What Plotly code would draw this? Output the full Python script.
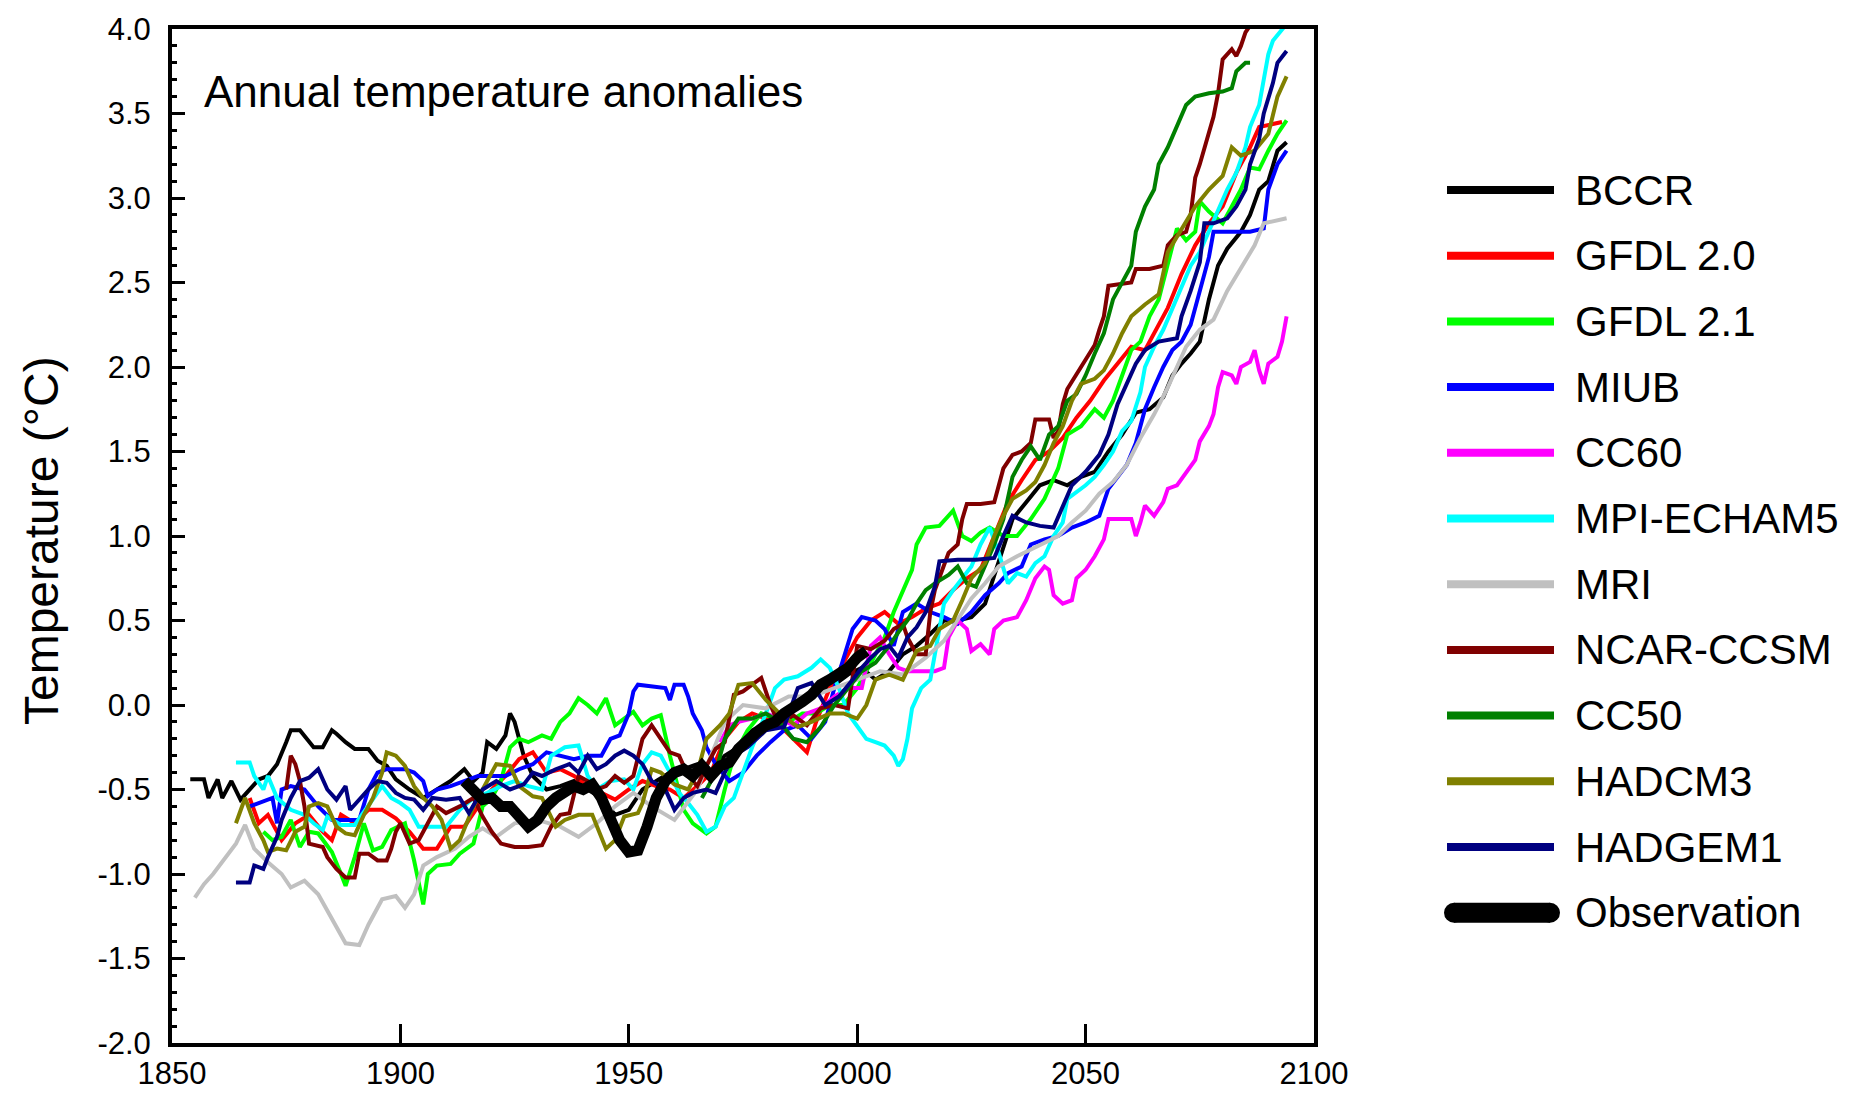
import plotly.graph_objects as go

# ------------------------------------------------------------------ data
# (year, temperature anomaly in degC)
BCCR = [(1854,-0.44),(1857,-0.44),(1858,-0.55),(1860,-0.44),(1861,-0.55),(1863,-0.45),(1865,-0.56),
        (1867,-0.5),(1869,-0.44),(1871,-0.42),(1873,-0.35),(1875,-0.22),(1876,-0.15),(1878,-0.15),
        (1880,-0.22),(1881,-0.25),(1883,-0.25),(1885,-0.15),(1886,-0.17),(1888,-0.22),(1890,-0.26),
        (1893,-0.26),(1895,-0.33),(1897,-0.36),(1899,-0.44),(1902,-0.5),(1905,-0.55),(1908,-0.5),
        (1911,-0.45),(1914,-0.38),(1916,-0.45),(1918,-0.4),(1919,-0.22),(1921,-0.26),(1923,-0.18),
        (1924,-0.05),(1925,-0.1),(1927,-0.3),(1929,-0.42),(1932,-0.5),(1935,-0.48),(1938,-0.45),
        (1941,-0.5),(1944,-0.55),(1947,-0.65),(1950,-0.62),(1953,-0.5),(1956,-0.45),(1959,-0.4),
        (1962,-0.38),(1965,-0.35),(1968,-0.4),(1971,-0.3),(1974,-0.25),(1977,-0.15),(1980,-0.12),
        (1983,-0.05),(1986,-0.02),(1989,0.02),(1992,0.08),(1995,0.12),(1998,0.18),(2001,0.22),
        (2004,0.15),(2007,0.2),(2010,0.3),(2013,0.35),(2016,0.42),(2019,0.5),(2022,0.5),(2025,0.52),
        (2028,0.6),(2031,0.85),(2034,1.1),(2037,1.2),(2040,1.3),(2043,1.33),(2046,1.3),(2049,1.35),
        (2052,1.38),(2055,1.5),(2058,1.6),(2061,1.73),(2064,1.75),(2067,1.82),(2069,1.95),(2071,2.02),
        (2073,2.08),(2075,2.15),(2077,2.4),(2079,2.6),(2081,2.7),(2084,2.8),(2086,2.9),(2088,3.05),
        (2090,3.1),(2092,3.28),(2094,3.33)]

GFDL20 = [(1867,-0.55),(1869,-0.7),(1871,-0.65),(1874,-0.8),(1877,-0.7),(1880,-0.65),(1883,-0.75),
          (1885,-0.8),(1887,-0.65),(1890,-0.7),(1893,-0.62),(1896,-0.62),(1899,-0.67),(1902,-0.75),
          (1905,-0.85),(1908,-0.85),(1911,-0.72),(1914,-0.72),(1917,-0.6),(1920,-0.5),(1923,-0.42),
          (1926,-0.32),(1929,-0.28),(1932,-0.4),(1935,-0.38),(1938,-0.42),(1941,-0.48),(1944,-0.52),
          (1947,-0.56),(1950,-0.5),(1953,-0.45),(1956,-0.48),(1959,-0.5),(1962,-0.55),(1965,-0.48),
          (1968,-0.4),(1971,-0.2),(1974,-0.1),(1977,-0.05),(1980,-0.08),(1983,-0.12),(1986,-0.2),
          (1989,-0.28),(1991,-0.1),(1994,0.1),(1997,0.25),(2000,0.4),(2003,0.5),(2006,0.55),(2009,0.48),
          (2012,0.52),(2015,0.57),(2018,0.6),(2021,0.68),(2024,0.75),(2027,0.8),(2030,1.0),(2033,1.2),
          (2036,1.33),(2039,1.45),(2042,1.5),(2045,1.58),(2048,1.7),(2051,1.8),(2054,1.92),(2057,2.02),
          (2060,2.12),(2063,2.1),(2066,2.25),(2068,2.35),(2071,2.55),(2074,2.72),(2077,2.85),(2080,2.95),
          (2083,3.15),(2086,3.3),(2088,3.42),(2090,3.43),(2093,3.45)]

GFDL21 = [(1870,-0.75),(1872,-0.8),(1874,-0.78),(1876,-0.68),(1878,-0.84),(1880,-0.75),(1882,-0.76),
          (1885,-0.87),(1887,-1.0),(1888,-1.07),(1890,-0.9),(1892,-0.7),(1894,-0.86),(1896,-0.84),
          (1898,-0.74),(1901,-0.7),(1903,-0.92),(1905,-1.18),(1906,-1.0),(1908,-0.95),(1911,-0.94),
          (1913,-0.88),(1916,-0.82),(1918,-0.6),(1920,-0.55),(1922,-0.45),(1924,-0.25),(1926,-0.2),
          (1928,-0.22),(1931,-0.18),(1933,-0.2),(1935,-0.1),(1937,-0.05),(1939,0.04),(1941,0.0),
          (1943,-0.05),(1945,0.04),(1947,-0.12),(1949,-0.08),(1951,-0.04),(1953,-0.12),(1955,-0.08),
          (1957,-0.06),(1959,-0.3),(1962,-0.62),(1964,-0.7),(1967,-0.76),(1969,-0.72),(1971,-0.5),
          (1973,-0.3),(1976,-0.15),(1979,-0.05),(1982,-0.08),(1985,-0.1),(1988,-0.05),(1991,-0.05),
          (1994,0.0),(1997,0.0),(2000,0.1),(2003,0.25),(2006,0.4),(2008,0.55),(2010,0.68),(2012,0.8),
          (2013,0.95),(2015,1.05),(2018,1.06),(2020,1.12),(2021,1.15),(2023,1.0),(2025,0.97),(2027,1.02),
          (2029,1.05),(2032,1.0),(2035,1.0),(2038,1.1),(2041,1.22),(2044,1.4),(2046,1.6),(2049,1.65),
          (2052,1.75),(2054,1.7),(2056,1.8),(2058,1.95),(2060,2.1),(2062,2.15),(2064,2.3),(2066,2.4),
          (2068,2.6),(2070,2.82),(2072,2.75),(2074,2.8),(2075,2.98),(2077,2.92),(2080,2.85),(2082,2.95),
          (2084,3.05),(2086,3.18),(2088,3.17),(2090,3.28),(2092,3.38),(2094,3.46)]

MIUB = [(1867,-0.6),(1869,-0.58),(1872,-0.55),(1873,-0.7),(1874,-0.5),(1876,-0.48),(1879,-0.5),
        (1882,-0.6),(1885,-0.68),(1888,-0.68),(1891,-0.68),(1893,-0.5),(1895,-0.4),(1897,-0.38),
        (1899,-0.38),(1901,-0.38),(1903,-0.4),(1905,-0.45),(1906,-0.54),(1908,-0.5),(1911,-0.48),
        (1914,-0.45),(1917,-0.42),(1920,-0.42),(1923,-0.42),(1926,-0.38),(1929,-0.35),(1932,-0.28),
        (1935,-0.3),(1938,-0.32),(1941,-0.3),(1944,-0.3),(1946,-0.2),(1948,-0.18),(1950,-0.05),
        (1951,0.08),(1952,0.12),(1955,0.11),(1958,0.1),(1959,0.03),(1960,0.12),(1962,0.12),(1963,0.05),
        (1964,-0.05),(1966,-0.15),(1967,-0.25),(1969,-0.35),(1972,-0.45),(1975,-0.4),(1978,-0.3),
        (1981,-0.22),(1984,-0.15),(1987,-0.12),(1990,-0.2),(1993,-0.1),(1995,0.1),(1997,0.28),
        (1999,0.45),(2001,0.52),(2004,0.5),(2006,0.45),(2008,0.35),(2010,0.55),(2013,0.6),(2016,0.55),
        (2019,0.52),(2022,0.48),(2025,0.55),(2028,0.65),(2031,0.72),(2033,0.78),(2036,0.82),(2038,0.95),
        (2041,0.98),(2044,1.0),(2047,1.05),(2050,1.08),(2053,1.12),(2055,1.28),(2057,1.35),(2059,1.42),
        (2061,1.55),(2063,1.75),(2065,1.88),(2067,2.0),(2069,2.1),(2071,2.15),(2073,2.25),(2075,2.45),
        (2077,2.65),(2078,2.8),(2082,2.8),(2086,2.8),(2089,2.82),(2090,3.05),(2092,3.2),(2094,3.28)]

CC60 = [(1970,-0.22),(1972,-0.12),(1974,-0.1),(1977,-0.08),(1980,-0.05),(1983,-0.08),(1986,-0.12),
        (1989,-0.05),(1992,-0.02),(1995,0.05),(1998,0.1),(2001,0.1),(2003,0.35),(2005,0.4),(2007,0.3),
        (2009,0.22),(2011,0.2),(2014,0.2),(2017,0.2),(2019,0.22),(2020,0.4),(2022,0.5),(2024,0.45),
        (2025,0.32),(2027,0.36),(2029,0.3),(2030,0.45),(2032,0.5),(2035,0.52),(2037,0.62),(2039,0.75),
        (2041,0.82),(2042,0.8),(2043,0.65),(2045,0.6),(2047,0.62),(2048,0.75),(2050,0.8),(2052,0.88),
        (2054,0.98),(2055,1.1),(2058,1.1),(2060,1.1),(2061,1.0),(2062,1.08),(2063,1.18),(2065,1.12),
        (2067,1.2),(2068,1.28),(2070,1.3),(2072,1.38),(2074,1.45),(2075,1.56),(2077,1.65),(2078,1.72),
        (2079,1.88),(2080,1.97),(2082,1.95),(2083,1.9),(2084,2.0),(2086,2.03),(2087,2.1),(2088,1.98),
        (2089,1.9),(2090,2.02),(2092,2.06),(2093,2.15),(2094,2.3)]

MPI_ECHAM5 = [(1864,-0.34),(1867,-0.34),(1868,-0.42),(1870,-0.5),(1871,-0.42),(1873,-0.55),(1876,-0.62),
              (1879,-0.65),(1881,-0.7),(1883,-0.74),(1884,-0.66),(1887,-0.71),(1890,-0.71),(1893,-0.6),
              (1896,-0.48),(1898,-0.55),(1900,-0.58),(1902,-0.62),(1904,-0.72),(1907,-0.72),(1910,-0.72),
              (1913,-0.62),(1916,-0.55),(1919,-0.52),(1922,-0.48),(1925,-0.45),(1928,-0.48),(1931,-0.5),
              (1933,-0.3),(1936,-0.25),(1939,-0.24),(1941,-0.42),(1943,-0.5),(1946,-0.45),(1949,-0.44),
              (1951,-0.5),(1953,-0.35),(1955,-0.28),(1957,-0.3),(1959,-0.4),(1961,-0.52),(1963,-0.58),
              (1965,-0.65),(1967,-0.75),(1969,-0.72),(1971,-0.6),(1973,-0.55),(1975,-0.4),(1977,-0.25),
              (1980,-0.05),(1982,0.1),(1984,0.15),(1987,0.17),(1990,0.22),(1992,0.27),(1994,0.22),
              (1996,0.1),(1998,-0.05),(2000,-0.13),(2002,-0.2),(2004,-0.22),(2006,-0.24),(2008,-0.3),
              (2009,-0.36),(2010,-0.32),(2011,-0.2),(2012,-0.02),(2014,0.1),(2016,0.15),(2018,0.45),
              (2019,0.6),(2021,0.68),(2023,0.75),(2025,0.82),(2027,0.95),(2029,1.05),(2031,0.9),(2033,0.72),
              (2035,0.78),(2037,0.76),(2039,0.84),(2041,0.88),(2043,1.0),(2045,1.08),(2046,1.22),(2048,1.26),
              (2050,1.3),(2052,1.35),(2054,1.42),(2056,1.5),(2058,1.62),(2060,1.68),(2062,1.85),(2063,2.0),
              (2065,2.12),(2067,2.22),(2069,2.35),(2071,2.48),(2073,2.6),(2075,2.68),(2077,2.8),(2079,2.92),
              (2081,3.05),(2083,3.15),(2085,3.3),(2086,3.42),(2088,3.55),(2089,3.7),(2090,3.85),(2091,3.93),
              (2093,4.0),(2094,4.03)]

MRI = [(1855,-1.14),(1857,-1.06),(1859,-1.0),(1861,-0.93),(1864,-0.82),(1866,-0.71),(1868,-0.85),
       (1871,-0.93),(1874,-1.0),(1876,-1.08),(1879,-1.04),(1882,-1.12),(1885,-1.27),(1888,-1.41),
       (1891,-1.42),(1893,-1.3),(1896,-1.15),(1899,-1.13),(1901,-1.2),(1903,-1.12),(1905,-0.95),
       (1908,-0.9),(1912,-0.85),(1915,-0.78),(1918,-0.73),(1921,-0.78),(1925,-0.7),(1930,-0.68),
       (1935,-0.72),(1939,-0.78),(1943,-0.7),(1947,-0.6),(1951,-0.52),(1955,-0.6),(1960,-0.68),
       (1965,-0.5),(1968,-0.3),(1971,-0.1),(1975,0.0),(1980,-0.02),(1985,0.05),(1990,0.05),(1995,0.1),
       (2000,0.15),(2005,0.2),(2010,0.18),(2015,0.28),(2019,0.38),(2022,0.5),(2025,0.63),(2028,0.72),
       (2031,0.82),(2035,0.88),(2040,0.95),(2044,1.0),(2047,1.08),(2050,1.15),(2053,1.25),(2056,1.32),
       (2059,1.42),(2062,1.58),(2065,1.72),(2068,1.88),(2070,2.0),(2072,2.12),(2075,2.22),(2078,2.28),
       (2081,2.45),(2084,2.58),(2087,2.72),(2089,2.85),(2094,2.88)]

NCAR_CCSM = [(1875,-0.5),(1876,-0.3),(1877,-0.35),(1878,-0.45),(1879,-0.6),(1880,-0.82),(1883,-0.84),
             (1884,-0.9),(1886,-0.97),(1888,-1.02),(1890,-1.02),(1891,-0.88),(1893,-0.88),(1895,-0.92),
             (1897,-0.92),(1898,-0.85),(1899,-0.75),(1900,-0.7),(1902,-0.82),(1904,-0.8),(1906,-0.7),
             (1908,-0.6),(1910,-0.64),(1913,-0.6),(1916,-0.55),(1918,-0.66),(1920,-0.75),(1922,-0.82),
             (1925,-0.84),(1928,-0.84),(1931,-0.83),(1933,-0.72),(1935,-0.65),(1937,-0.64),(1939,-0.42),
             (1941,-0.45),(1943,-0.5),(1945,-0.48),(1947,-0.42),(1949,-0.46),(1951,-0.42),(1953,-0.2),
             (1955,-0.12),(1957,-0.2),(1959,-0.28),(1961,-0.3),(1963,-0.42),(1965,-0.48),(1967,-0.36),
             (1969,-0.26),(1971,-0.22),(1973,0.06),(1975,0.08),(1977,0.12),(1979,0.16),(1981,0.0),
             (1983,-0.12),(1986,-0.06),(1989,-0.12),(1992,-0.02),(1995,0.0),(1998,-0.02),(2000,0.35),
             (2003,0.33),(2006,0.38),(2008,0.45),(2010,0.48),(2011,0.4),(2013,0.3),(2015,0.3),(2016,0.55),
             (2017,0.68),(2019,0.82),(2020,0.9),(2022,0.95),(2023,1.1),(2024,1.19),(2027,1.19),(2030,1.2),
             (2031,1.3),(2032,1.4),(2034,1.48),(2036,1.5),(2038,1.55),(2039,1.69),(2042,1.69),(2043,1.58),
             (2044,1.62),(2045,1.78),(2046,1.87),(2048,1.96),(2050,2.05),(2052,2.13),(2053,2.22),(2054,2.3),
             (2055,2.48),(2058,2.49),(2060,2.5),(2061,2.58),(2064,2.58),(2067,2.6),(2068,2.72),(2070,2.78),
             (2072,2.8),(2073,2.9),(2074,3.12),(2075,3.2),(2076,3.3),(2077,3.4),(2078,3.48),(2079,3.62),
             (2080,3.82),(2082,3.88),(2083,3.84),(2084,3.9),(2085,3.98),(2086,4.02)]

CC50 = [(1966,-0.55),(1969,-0.4),(1971,-0.2),(1974,-0.08),(1977,-0.08),(1980,-0.05),(1983,-0.1),
        (1986,-0.2),(1989,-0.22),(1992,-0.13),(1995,0.0),(1998,0.1),(2001,0.2),(2004,0.25),(2007,0.35),
        (2009,0.43),(2011,0.5),(2013,0.6),(2015,0.68),(2017,0.72),(2020,0.77),(2022,0.82),(2024,0.72),
        (2026,0.7),(2028,0.82),(2030,0.95),(2032,1.1),(2034,1.35),(2036,1.45),(2038,1.53),(2040,1.45),
        (2042,1.6),(2044,1.65),(2046,1.8),(2048,1.84),(2050,1.95),(2052,2.08),(2054,2.2),(2056,2.4),
        (2058,2.5),(2060,2.6),(2061,2.8),(2063,2.95),(2065,3.05),(2066,3.2),(2068,3.3),(2070,3.42),
        (2072,3.55),(2074,3.6),(2077,3.62),(2080,3.63),(2082,3.65),(2083,3.75),(2085,3.8),(2086,3.8)]

HADCM3 = [(1864,-0.7),(1866,-0.55),(1868,-0.7),(1870,-0.8),(1871,-0.87),(1873,-0.85),(1875,-0.86),
          (1877,-0.75),(1879,-0.72),(1880,-0.6),(1882,-0.58),(1884,-0.6),(1886,-0.72),(1888,-0.76),
          (1890,-0.77),(1892,-0.65),(1894,-0.55),(1896,-0.4),(1897,-0.28),(1899,-0.3),(1901,-0.36),
          (1903,-0.48),(1905,-0.55),(1907,-0.6),(1909,-0.68),(1911,-0.85),(1913,-0.8),(1916,-0.6),
          (1919,-0.45),(1921,-0.35),(1924,-0.36),(1926,-0.48),(1929,-0.54),(1931,-0.55),(1934,-0.72),
          (1936,-0.68),(1939,-0.65),(1942,-0.65),(1945,-0.85),(1947,-0.8),(1949,-0.66),(1952,-0.64),
          (1953,-0.58),(1955,-0.38),(1957,-0.4),(1960,-0.47),(1963,-0.5),(1965,-0.4),(1967,-0.2),
          (1970,-0.12),(1972,-0.05),(1974,0.12),(1977,0.13),(1980,0.03),(1983,-0.05),(1987,-0.13),
          (1990,-0.1),(1994,-0.05),(1997,-0.05),(2000,-0.08),(2002,0.0),(2004,0.15),(2007,0.18),
          (2010,0.15),(2013,0.32),(2016,0.35),(2018,0.45),(2021,0.5),(2023,0.62),(2025,0.75),(2028,0.84),
          (2030,1.0),(2032,1.12),(2034,1.22),(2037,1.27),(2039,1.32),(2041,1.42),(2043,1.55),(2045,1.65),
          (2047,1.8),(2049,1.9),(2052,1.93),(2054,1.98),(2056,2.08),(2058,2.2),(2060,2.3),(2063,2.37),
          (2066,2.43),(2068,2.68),(2071,2.82),(2074,2.95),(2077,3.05),(2080,3.13),(2082,3.3),(2084,3.25),
          (2087,3.28),(2090,3.38),(2092,3.6),(2094,3.72)]

HADGEM1 = [(1864,-1.05),(1867,-1.05),(1868,-0.95),(1870,-0.97),(1871,-0.9),(1873,-0.78),(1874,-0.68),
           (1876,-0.55),(1878,-0.45),(1880,-0.43),(1882,-0.38),(1884,-0.5),(1886,-0.56),(1888,-0.48),
           (1889,-0.62),(1891,-0.56),(1893,-0.5),(1895,-0.45),(1897,-0.46),(1899,-0.52),(1901,-0.55),
           (1903,-0.56),(1905,-0.62),(1907,-0.55),(1910,-0.56),(1913,-0.55),(1915,-0.64),(1918,-0.5),
           (1921,-0.45),(1924,-0.5),(1927,-0.47),(1929,-0.4),(1931,-0.42),(1934,-0.38),(1937,-0.35),
           (1939,-0.4),(1941,-0.3),(1943,-0.38),(1945,-0.35),(1947,-0.3),(1949,-0.27),(1951,-0.3),
           (1953,-0.35),(1955,-0.45),(1958,-0.5),(1960,-0.62),(1962,-0.55),(1964,-0.52),(1967,-0.5),
           (1969,-0.52),(1971,-0.4),(1973,-0.3),(1976,-0.25),(1980,-0.15),(1984,-0.13),(1987,0.1),
           (1990,0.13),(1993,0.0),(1996,0.05),(1999,0.15),(2001,0.22),(2003,0.28),(2005,0.33),(2007,0.35),
           (2009,0.28),(2011,0.4),(2013,0.46),(2015,0.55),(2017,0.7),(2018,0.85),(2022,0.86),(2026,0.86),
           (2030,0.87),(2032,1.0),(2034,1.12),(2037,1.08),(2040,1.06),(2043,1.05),(2045,1.18),(2047,1.3),
           (2050,1.38),(2053,1.48),(2055,1.6),(2057,1.78),(2059,1.9),(2061,2.02),(2063,2.1),(2066,2.15),
           (2070,2.17),(2071,2.3),(2073,2.45),(2075,2.62),(2076,2.85),(2078,2.85),(2081,2.88),(2083,2.95),
           (2085,3.05),(2086,3.2),(2088,3.35),(2089,3.5),(2091,3.68),(2092,3.8),(2094,3.87)]

OBSERVATION = [(1914,-0.45),(1916,-0.5),(1918,-0.56),(1920,-0.55),(1922,-0.6),(1924,-0.6),(1926,-0.66),
               (1928,-0.72),(1930,-0.68),(1932,-0.6),(1934,-0.55),(1936,-0.52),(1938,-0.48),(1940,-0.5),
               (1942,-0.47),(1944,-0.55),(1946,-0.66),(1948,-0.8),(1950,-0.87),(1952,-0.86),(1954,-0.72),
               (1956,-0.55),(1958,-0.45),(1960,-0.4),(1962,-0.38),(1964,-0.42),(1966,-0.36),(1968,-0.42),
               (1970,-0.36),(1972,-0.34),(1974,-0.26),(1976,-0.2),(1978,-0.16),(1980,-0.12),(1982,-0.1),
               (1984,-0.05),(1986,-0.02),(1988,0.02),(1990,0.06),(1992,0.12),(1994,0.15),(1996,0.18),
               (1998,0.22),(2000,0.28),(2002,0.32)]

SERIES_NAMES = ["BCCR", "GFDL 2.0", "GFDL 2.1", "MIUB", "CC60", "MPI-ECHAM5", "MRI",
                "NCAR-CCSM", "CC50", "HADCM3", "HADGEM1", "Observation"]
SERIES_DATA = [BCCR, GFDL20, GFDL21, MIUB, CC60, MPI_ECHAM5, MRI,
               NCAR_CCSM, CC50, HADCM3, HADGEM1, OBSERVATION]

X_TICKS = [1850, 1900, 1950, 2000, 2050, 2100]
X_TICK_LABELS = ["1850", "1900", "1950", "2000", "2050", "2100"]
Y_TICKS = [-2.0, -1.5, -1.0, -0.5, 0.0, 0.5, 1.0, 1.5, 2.0, 2.5, 3.0, 3.5, 4.0]
Y_TICK_LABELS = ["-2.0", "-1.5", "-1.0", "-0.5", "0.0", "0.5", "1.0", "1.5", "2.0",
                 "2.5", "3.0", "3.5", "4.0"]

TITLE_TEXT = "Annual temperature anomalies"
Y_TITLE = "Temperature (°C)"

# ------------------------------------------------------------------ styles
COLORS = ["#000000", "#FF0000", "#00FF00", "#0000FF", "#FF00FF", "#00FFFF", "#C0C0C0",
          "#800000", "#008000", "#808000", "#000080", "#000000"]
WIDTHS = [4] * 11 + [11]
FONT = "Liberation Sans, Arial, sans-serif"

BODY = 8                       # default page margin around the figure
W, H = 1856 - 2 * BODY, 1099 - 2 * BODY
L, R, T, B = 172, 1314, 29, 1043   # plot area in page pixels


def px_x(p):
    return (p - L) / (R - L)


def px_y(p):
    return (B - p) / (B - T)


fig = go.Figure()
for name, data, color, width in zip(SERIES_NAMES, SERIES_DATA, COLORS, WIDTHS):
    fig.add_trace(go.Scatter(
        x=[d[0] for d in data], y=[d[1] for d in data], mode="lines", name=name,
        line=dict(color=color, width=width), showlegend=False))

# ---- hand-drawn legend (long line samples, as in the reference)
shapes = []
annotations = []
LEG_Y0, LEG_DY = 190, 65.7
for i, (name, color) in enumerate(zip(SERIES_NAMES, COLORS)):
    yc = LEG_Y0 + i * LEG_DY
    if name == "Observation":
        shapes.append(dict(type="line", xref="paper", yref="paper",
                           x0=px_x(1454), x1=px_x(1550), y0=px_y(yc), y1=px_y(yc),
                           line=dict(color=color, width=20)))
        for cx in (1454, 1550):
            shapes.append(dict(type="circle", xref="paper", yref="paper",
                               x0=px_x(cx - 10), x1=px_x(cx + 10),
                               y0=px_y(yc + 10), y1=px_y(yc - 10),
                               line=dict(width=0), fillcolor=color))
    else:
        shapes.append(dict(type="line", xref="paper", yref="paper",
                           x0=px_x(1447), x1=px_x(1554), y0=px_y(yc), y1=px_y(yc),
                           line=dict(color=color, width=8)))
    annotations.append(dict(text=name, xref="paper", yref="paper", x=px_x(1573), y=px_y(yc),
                            xanchor="left", yanchor="middle", showarrow=False,
                            font=dict(family=FONT, size=42, color="black")))

annotations.append(dict(text=TITLE_TEXT, xref="paper", yref="paper", x=px_x(202), y=px_y(92),
                        xanchor="left", yanchor="middle", showarrow=False,
                        font=dict(family=FONT, size=44, color="black")))
annotations.append(dict(text=Y_TITLE, xref="paper", yref="paper", x=px_x(41), y=px_y(541),
                        xanchor="center", yanchor="middle", showarrow=False, textangle=-90,
                        font=dict(family=FONT, size=48, color="black")))

fig.update_layout(
    width=W, height=H,
    margin=dict(l=L - BODY, r=W + BODY - R, t=T - BODY, b=H + BODY - B, pad=0),
    paper_bgcolor="white", plot_bgcolor="white",
    showlegend=False,
    shapes=shapes, annotations=annotations,
    xaxis=dict(range=[1850, 2100], showgrid=False, zeroline=False, automargin=False,
               showline=True, linewidth=4, linecolor="black", mirror=True,
               ticks="inside", ticklen=19, tickwidth=3, tickcolor="black",
               tickmode="array", tickvals=X_TICKS, ticktext=X_TICK_LABELS,
               tickfont=dict(family=FONT, size=31, color="black"),
               ticklabelstandoff=0),
    yaxis=dict(range=[-2, 4], showgrid=False, zeroline=False, automargin=False,
               showline=True, linewidth=4, linecolor="black", mirror=True,
               ticks="inside", ticklen=13, tickwidth=3, tickcolor="black",
               tickmode="array", tickvals=Y_TICKS, ticktext=Y_TICK_LABELS,
               tickfont=dict(family=FONT, size=31, color="black"),
               ticklabelstandoff=11,
               minor=dict(tickmode="linear", tick0=-2, dtick=0.1, ticks="inside",
                          ticklen=5, tickwidth=3, tickcolor="black", showgrid=False)),
)

fig.write_html("out.html")
